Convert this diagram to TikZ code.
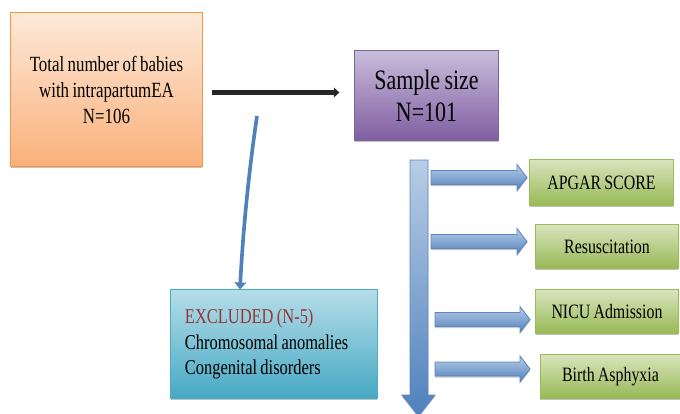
\documentclass[tikz,border=0pt]{standalone}
\usepackage{fontspec}
\setmainfont{Liberation Serif}
\newfontfamily\narrowfont[FakeStretch=0.78,WordSpace=0.8]{Liberation Serif}
\usetikzlibrary{arrows.meta,positioning,shadows}

\definecolor{orangetop}{HTML}{FDE9D9}
\definecolor{orangebot}{HTML}{FAB17A}
\definecolor{orangeedge}{HTML}{F79646}
\definecolor{purpletop}{HTML}{C9BCDB}
\definecolor{purplebot}{HTML}{7F5FA0}
\definecolor{purpleedge}{HTML}{7A65A0}
\definecolor{cyantop}{HTML}{B4DDE8}
\definecolor{cyanbot}{HTML}{47A9C4}
\definecolor{cyanedge}{HTML}{4BACC6}
\definecolor{greentop}{HTML}{D7E4BD}
\definecolor{greenbot}{HTML}{98B955}
\definecolor{greenedge}{HTML}{9BBB59}
\definecolor{bluetop}{HTML}{B9CDE5}
\definecolor{bluebot}{HTML}{4F81BD}
\definecolor{blueedge}{HTML}{5B86C2}
\definecolor{exred}{HTML}{953735}

\tikzset{
  flowbox/.style={draw,line width=0.7pt,align=center,inner sep=2pt,
    drop shadow={shadow xshift=0pt,shadow yshift=-1.4pt,opacity=0.35,fill=black!70}},
  totalbox/.style={flowbox,draw=orangeedge,top color=orangetop,bottom color=orangebot,
    font=\narrowfont\fontsize{15.4}{18.5}\selectfont},
  samplebox/.style={flowbox,draw=purpleedge,top color=purpletop,bottom color=purplebot,
    font=\narrowfont\fontsize{20}{22.7}\selectfont},
  excludebox/.style={flowbox,draw=cyanedge,top color=cyantop,bottom color=cyanbot,
    align=flush left,font=\narrowfont\fontsize{15}{18.4}\selectfont},
  outcomebox/.style={flowbox,draw=greenedge,top color=greentop,bottom color=greenbot,
    minimum height=1.1cm,font=\narrowfont\fontsize{14.5}{17}\selectfont},
  blockarrow/.style={draw=blueedge,line width=0.6pt,top color=bluetop,bottom color=bluebot,
    drop shadow={shadow xshift=0pt,shadow yshift=-1.2pt,opacity=0.3,fill=black!70}},
  mainarrow/.style={draw=black!85,line width=3pt,-{Triangle[length=4pt,width=7pt]}},
  excludearrow/.style={draw=bluebot,line width=2.6pt,-{Triangle[length=5pt,width=8pt]}}
}

\begin{document}
\begin{tikzpicture}[x=0.025cm,y=-0.025cm]
\useasboundingbox (0,0) rectangle (680,414);

% boxes
\node[totalbox,minimum width=4.78cm,minimum height=3.83cm] (total) at (106.5,89.5) {Total number of babies\\with intrapartumEA\\N=106};
\node[samplebox,minimum width=3.58cm,minimum height=2.23cm] (sample) at (426.5,95.5) {Sample size\\N=101};
\node[excludebox,minimum width=5.15cm,minimum height=2.7cm,text width=4.45cm] (excluded) at (274,344) {\textcolor{exred}{EXCLUDED (N-5)}\\Chromosomal anomalies\\Congenital disorders};

% outcomes
\node[outcomebox,minimum width=3.58cm,minimum height=1.13cm] (apgar) at (601.5,182.5) {APGAR SCORE};
\node[outcomebox,minimum width=3.55cm,minimum height=1.08cm] (resus) at (607,246.5) {Resuscitation};
\node[outcomebox,minimum width=3.55cm,minimum height=1.08cm] (nicu) at (607,311.5) {NICU Admission};
\node[outcomebox,minimum width=3.5cm,minimum height=1.08cm] (asphyxia) at (610.5,376.5) {Birth Asphyxia};

% connectors
\draw[mainarrow,shorten <=0.225cm,shorten >=0.375cm] ([yshift=-0.075cm]total.east) -- ([yshift=-0.075cm]total.east -| sample.west);
\coordinate (split) at (257,116);
\draw[excludearrow] (split) .. controls (249,170) and (243,230) .. ([xshift=-0.85cm]excluded.north);

% block arrows
\path[blockarrow] (410,160) -- (428,160) -- (428,395) -- (435,395) -- (418.5,416) -- (402,395) -- (410,395) -- cycle;
\foreach \xa/\xb/\yc in {431/527/177.5,431/527/241.5,435/530/319.5,435/530/369}
  \path[blockarrow] (\xa,\yc-7) -- (\xb-10,\yc-7) -- (\xb-10,\yc-13) -- (\xb,\yc) -- (\xb-10,\yc+13) -- (\xb-10,\yc+7) -- (\xa,\yc+7) -- cycle;
\end{tikzpicture}
\end{document}
